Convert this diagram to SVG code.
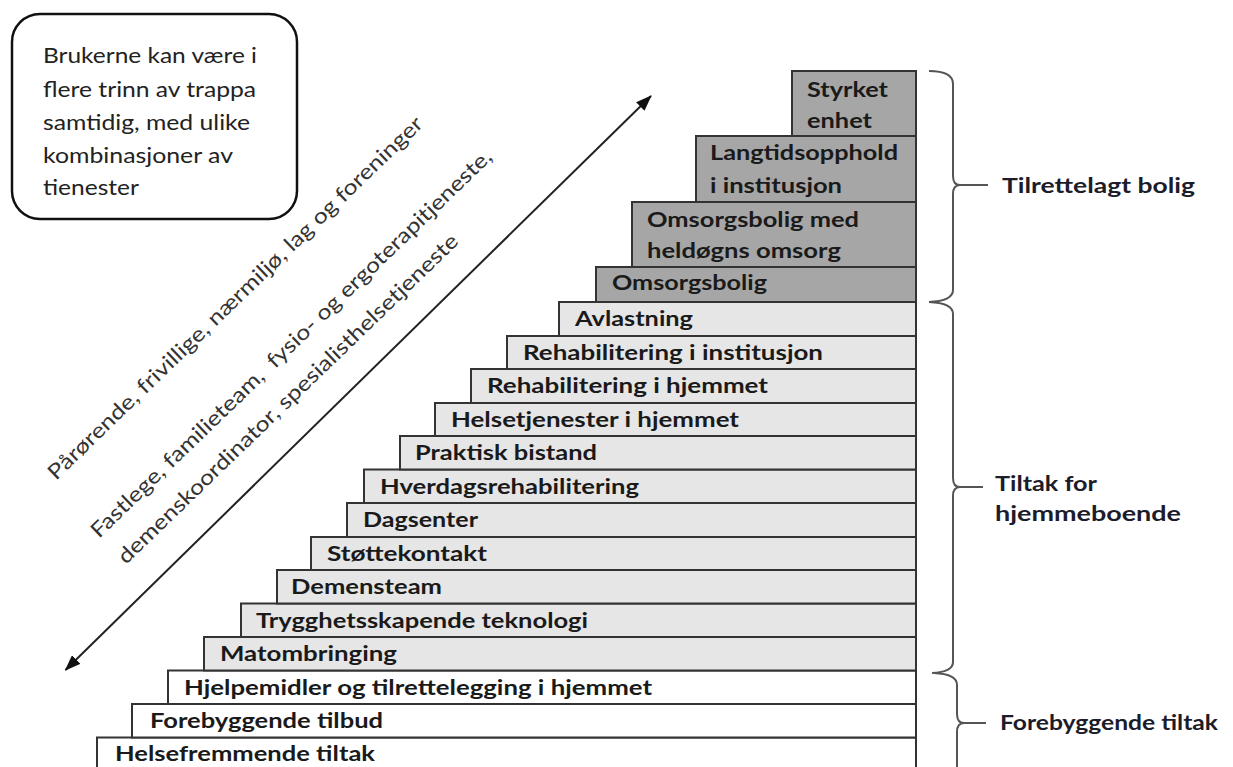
<svg xmlns="http://www.w3.org/2000/svg" width="1233" height="767" viewBox="0 0 1233 767">
<style>
.bg{fill:#ffffff}
.dk{fill:#a6a6a6;stroke:#333;stroke-width:2}
.lt{fill:#e6e6e6;stroke:#333;stroke-width:2}
.wh{fill:#ffffff;stroke:#333;stroke-width:2}
.lb{font-family:Lato,"Open Sans",sans-serif;font-weight:bold;font-size:20px;fill:#1a1a1a}
.rl{font-family:Lato,"Open Sans",sans-serif;font-weight:bold;font-size:21px;fill:#1c1c2a}
.bx{font-family:Lato,"Open Sans",sans-serif;font-size:21px;fill:#222}
.rt{font-family:Lato,"Open Sans",sans-serif;font-size:21px;fill:#333}
.br{fill:none;stroke:#555;stroke-width:2}
.ar{stroke:#222;stroke-width:2;fill:none}
</style>
<defs>
<marker id="ah" viewBox="0 0 16 12" refX="15" refY="6" markerWidth="16" markerHeight="12" markerUnits="userSpaceOnUse" orient="auto-start-reverse">
<path d="M0,0 L16,6 L0,12 z" fill="#111"/>
</marker>
</defs>
<rect class="bg" x="0" y="0" width="1233" height="767"/>

<g id="note">
<rect x="12" y="14" width="285" height="205" rx="28" fill="#fff" stroke="#111" stroke-width="2.5"/>
<text class="bx" x="43" y="63" textLength="214" lengthAdjust="spacingAndGlyphs">Brukerne kan være i</text>
<text class="bx" x="43" y="97" textLength="213" lengthAdjust="spacingAndGlyphs">flere trinn av trappa</text>
<text class="bx" x="43" y="130" textLength="207" lengthAdjust="spacingAndGlyphs">samtidig, med ulike</text>
<text class="bx" x="43" y="163" textLength="190" lengthAdjust="spacingAndGlyphs">kombinasjoner av</text>
<text class="bx" x="43" y="195" textLength="96" lengthAdjust="spacingAndGlyphs">tienester</text>
</g>

<g id="diagonal-labels">
<text class="rt" transform="translate(56,481) rotate(-44)" textLength="512" lengthAdjust="spacingAndGlyphs">Pårørende, frivillige, nærmiljø, lag og foreninger</text>
<text class="rt" transform="translate(99,539) rotate(-44)" textLength="548" lengthAdjust="spacingAndGlyphs">Fastlege, familieteam, &#160;fysio- og ergoterapitjeneste,</text>
<text class="rt" transform="translate(126,565) rotate(-44)" textLength="464" lengthAdjust="spacingAndGlyphs">demenskoordinator, spesialisthelsetjeneste</text>
</g>

<g id="connectors">
<line class="ar" x1="65.5" y1="670" x2="651" y2="96" marker-start="url(#ah)" marker-end="url(#ah)"/>
</g>

<g id="step-helsefremmende"><rect class="wh" x="97" y="737.5" width="819" height="40"/><text class="lb" x="115" y="761" textLength="260" lengthAdjust="spacingAndGlyphs">Helsefremmende tiltak</text></g>
<g id="step-forebyggende"><rect class="wh" x="132" y="704" width="784" height="33.5"/><text class="lb" x="150" y="728" textLength="233" lengthAdjust="spacingAndGlyphs">Forebyggende tilbud</text></g>
<g id="step-hjelpemidler"><rect class="wh" x="168" y="670.5" width="748" height="33.5"/><text class="lb" x="184" y="694.5" textLength="468" lengthAdjust="spacingAndGlyphs">Hjelpemidler og tilrettelegging i hjemmet</text></g>
<g id="step-matombringing"><rect class="lt" x="204" y="637" width="712" height="33.5"/><text class="lb" x="220" y="661" textLength="177" lengthAdjust="spacingAndGlyphs">Matombringing</text></g>
<g id="step-trygghet"><rect class="lt" x="241" y="603.5" width="675" height="33.5"/><text class="lb" x="256" y="627.5" textLength="332" lengthAdjust="spacingAndGlyphs">Trygghetsskapende teknologi</text></g>
<g id="step-demensteam"><rect class="lt" x="277" y="570" width="639" height="33.5"/><text class="lb" x="291" y="594" textLength="151" lengthAdjust="spacingAndGlyphs">Demensteam</text></g>
<g id="step-stottekontakt"><rect class="lt" x="311" y="537" width="605" height="33"/><text class="lb" x="327" y="561" textLength="160" lengthAdjust="spacingAndGlyphs">Støttekontakt</text></g>
<g id="step-dagsenter"><rect class="lt" x="347" y="503" width="569" height="34"/><text class="lb" x="363" y="527" textLength="115" lengthAdjust="spacingAndGlyphs">Dagsenter</text></g>
<g id="step-hverdag"><rect class="lt" x="364" y="469.5" width="552" height="33.5"/><text class="lb" x="380" y="493.5" textLength="259" lengthAdjust="spacingAndGlyphs">Hverdagsrehabilitering</text></g>
<g id="step-praktisk"><rect class="lt" x="400" y="436" width="516" height="33.5"/><text class="lb" x="415" y="460" textLength="182" lengthAdjust="spacingAndGlyphs">Praktisk bistand</text></g>
<g id="step-helsetjenester"><rect class="lt" x="435" y="403" width="481" height="33"/><text class="lb" x="451" y="427" textLength="288" lengthAdjust="spacingAndGlyphs">Helsetjenester i hjemmet</text></g>
<g id="step-rehab-hjem"><rect class="lt" x="471" y="369" width="445" height="34"/><text class="lb" x="487" y="393" textLength="281" lengthAdjust="spacingAndGlyphs">Rehabilitering i hjemmet</text></g>
<g id="step-rehab-inst"><rect class="lt" x="507" y="336" width="409" height="33"/><text class="lb" x="523" y="360" textLength="300" lengthAdjust="spacingAndGlyphs">Rehabilitering i institusjon</text></g>
<g id="step-avlastning"><rect class="lt" x="559" y="302" width="357" height="34"/><text class="lb" x="575" y="326" textLength="118" lengthAdjust="spacingAndGlyphs">Avlastning</text></g>
<g id="step-omsorgsbolig"><rect class="dk" x="596" y="267" width="320" height="35"/><text class="lb" x="612" y="290" textLength="155" lengthAdjust="spacingAndGlyphs">Omsorgsbolig</text></g>
<g id="step-omsorgsbolig-heldogn"><rect class="dk" x="632" y="202" width="284" height="65"/><text class="lb" x="647" y="227" textLength="212" lengthAdjust="spacingAndGlyphs">Omsorgsbolig med</text><text class="lb" x="647" y="258" textLength="194" lengthAdjust="spacingAndGlyphs">heldøgns omsorg</text></g>
<g id="step-langtid"><rect class="dk" x="696" y="136" width="220" height="66"/><text class="lb" x="710" y="160" textLength="188" lengthAdjust="spacingAndGlyphs">Langtidsopphold</text><text class="lb" x="710" y="193" textLength="132" lengthAdjust="spacingAndGlyphs">i institusjon</text></g>
<g id="step-styrket"><rect class="dk" x="792" y="71" width="124" height="65"/><text class="lb" x="807" y="97" textLength="81" lengthAdjust="spacingAndGlyphs">Styrket</text><text class="lb" x="807" y="128" textLength="65" lengthAdjust="spacingAndGlyphs">enhet</text></g>

<g id="brace-tilrettelagt">
<path class="br" d="M929,71 Q953,71 953,84 L953,176 Q953,185 960,185 Q953,185 953,194 L953,290 Q953,301 929,302"/>
<line class="br" x1="959" y1="185" x2="988" y2="185"/>
<text class="rl" x="1002" y="193" textLength="193" lengthAdjust="spacingAndGlyphs">Tilrettelagt bolig</text>
</g>
<g id="brace-hjemmeboende">
<path class="br" d="M929,302 Q953,303 953,314 L953,478 Q953,487 960,487 Q953,487 953,496 L953,662 Q953,672 932,673"/>
<line class="br" x1="959" y1="487" x2="983" y2="487"/>
<text class="rl" x="995" y="491" textLength="102" lengthAdjust="spacingAndGlyphs">Tiltak for</text>
<text class="rl" x="995" y="521" textLength="186" lengthAdjust="spacingAndGlyphs">hjemmeboende</text>
</g>
<g id="brace-forebyggende">
<path class="br" d="M934,673 Q957,674 957,685 L957,714 Q957,723 964,723 Q957,723 957,732 L957,780"/>
<line class="br" x1="963" y1="723" x2="986" y2="723"/>
<text class="rl" x="1000" y="730" textLength="218" lengthAdjust="spacingAndGlyphs">Forebyggende tiltak</text>
</g>
</svg>
